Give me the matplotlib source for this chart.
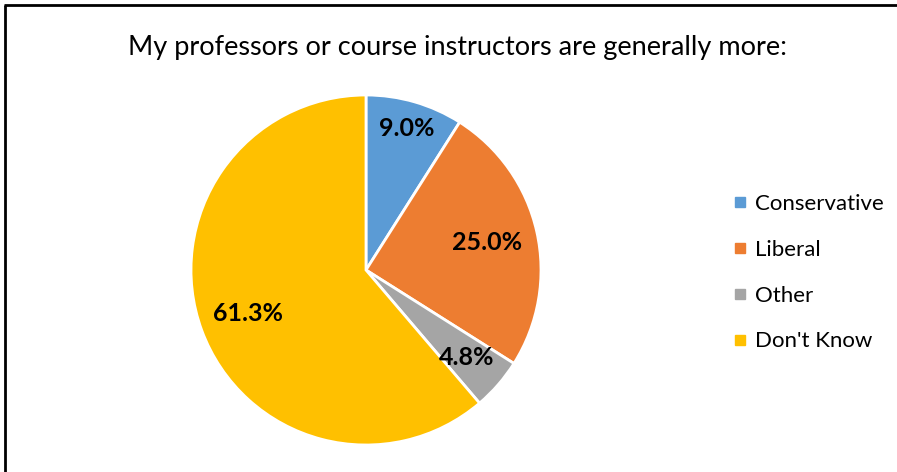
import numpy as np
import matplotlib.pyplot as plt
from matplotlib.lines import Line2D

# data
labels = ["Conservative", "Liberal", "Other", "Don't Know"]
values = [9.0, 25.0, 4.8, 61.3]
colors = ["#5B9BD5", "#ED7D31", "#A5A5A5", "#FFC000"]
label_radius = [0.84, 0.71, 0.76, 0.72]

plt.rcParams['font.family'] = ['Lato', 'DejaVu Sans']

W, H = 897, 472
fig = plt.figure(figsize=(W / 100, H / 100), dpi=100)

# pie axes placed in pixel terms
cx, cy, R = 366, 270, 175
ax = fig.add_axes([(cx - R) / W, (H - cy - R) / H, 2 * R / W, 2 * R / H])
wedges, _ = ax.pie(values, colors=colors, startangle=90, counterclock=False,
                   radius=1, wedgeprops=dict(edgecolor="white", linewidth=2))
ax.set_xlim(-1, 1)
ax.set_ylim(-1, 1)
ax.set_aspect("equal")

# percentage labels
total = sum(values)
start = 90.0
for v, r in zip(values, label_radius):
    mid = np.deg2rad(start - v / total * 360 / 2)
    ax.text(r * np.cos(mid), r * np.sin(mid), f"{v:.1f}%", ha="center", va="center",
            fontsize=18, fontweight="bold", color="black")
    start -= v / total * 360

fig.text(457 / W, 1 - 47 / H, "My professors or course instructors are generally more:",
         ha="center", va="center", fontsize=19.5)

handles = [Line2D([], [], marker="s", linestyle="none", markersize=7,
                  markerfacecolor=c, markeredgecolor=c) for c in colors]
fig.legend(handles, labels, loc="upper left", bbox_to_anchor=(712 / W, 1 - 174 / H),
           frameon=False, fontsize=16, handletextpad=0.32, labelspacing=1.16,
           handlelength=0.7)

# chart border (only left and top visible in the crop)
fig.add_artist(Line2D([5 / W, 5 / W], [0, 1 - 5 / H], color="black", linewidth=2,
                      solid_capstyle="butt", transform=fig.transFigure))
fig.add_artist(Line2D([4 / W, 1], [1 - 5 / H, 1 - 5 / H], color="black", linewidth=2,
                      solid_capstyle="butt", transform=fig.transFigure))

fig.savefig("out.png", dpi=100)
